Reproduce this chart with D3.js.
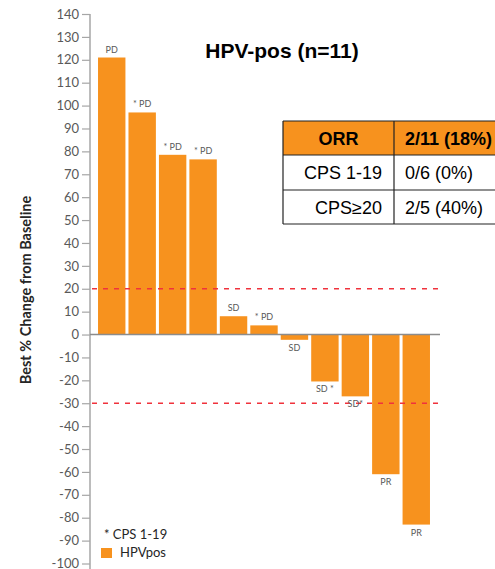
<!DOCTYPE html>
<html>
<head>
<meta charset="utf-8">
<script src="https://cdn.jsdelivr.net/npm/d3@7"></script>
<style>
  body { margin: 0; background: #fff; }
  svg { display: block; }
</style>
</head>
<body>
<svg width="495" height="569"></svg>
<script>
// patients, ordered by best % change
let patients = d3.range(1, 12);
let bestChange = [121, 97, 78.5, 76.5, 8, 4, -2.3, -20.5, -27, -61, -83];
let responseLabels = ["PD", "* PD", "* PD", "* PD", "SD", "* PD", "SD", "SD *", "SD*", "PR", "PR"];
let yTicks = d3.range(-100, 141, 10);
let thresholds = [20, -30];

let tableHeader = ["ORR", "2/11 (18%)"];
let tableRows = [["CPS 1-19", "0/6 (0%)"], ["CPS\u226520", "2/5 (40%)"]];

let orange = "#F7921E";
let svg = d3.select("svg");

var y = d3.scaleLinear()
  .domain([-100, 140])
  .range([563.5, 14]);

var x = d3.scaleBand()
  .domain(patients)
  .range([96.5, 431.5])
  .paddingInner(0.1)
  .paddingOuter(0.05);

let lato = "Lato, 'Open Sans', sans-serif";

// y axis
let yAxisG = svg.append("g")
  .attr("transform", "translate(90,0)")
  .call(d3.axisLeft(y).tickValues(yTicks).tickFormat(d => String(d))
    .tickSize(8).tickSizeOuter(0).tickPadding(3));
yAxisG.select(".domain").attr("stroke", "#a6a6a6").attr("stroke-width", 1.5)
  .attr("d", "M0," + y(140) + "V569");
yAxisG.selectAll(".tick line").attr("stroke", "#a6a6a6").attr("stroke-width", 1.2);
yAxisG.selectAll(".tick text")
  .attr("fill", "#595959")
  .style("font-family", lato)
  .style("font-size", "13px");

svg.append("text")
  .attr("transform", "translate(31,290) rotate(-90)")
  .attr("text-anchor", "middle")
  .attr("fill", "#262626")
  .style("font-family", lato)
  .style("font-weight", "bold")
  .style("font-size", "14.5px")
  .text("Best % Change from Baseline");

// bars
svg.selectAll("rect.bar")
  .data(bestChange)
  .join("rect")
    .attr("class", "bar")
    .attr("x", (d, i) => x(patients[i]))
    .attr("width", x.bandwidth())
    .attr("y", d => y(Math.max(0, d)))
    .attr("height", d => Math.abs(y(d) - y(0)))
    .attr("fill", orange);

// zero line
svg.append("line")
  .attr("x1", 90).attr("x2", 440)
  .attr("y1", y(0)).attr("y2", y(0))
  .attr("stroke", "#8c8c8c")
  .attr("stroke-width", 1.5);

// threshold lines
svg.selectAll("line.threshold")
  .data(thresholds)
  .join("line")
    .attr("class", "threshold")
    .attr("x1", 92).attr("x2", 440)
    .attr("y1", d => y(d)).attr("y2", d => y(d))
    .attr("stroke", "#f0323c")
    .attr("stroke-width", 1.6)
    .attr("stroke-dasharray", "5,6");

// response labels
svg.selectAll("text.resp")
  .data(bestChange)
  .join("text")
    .attr("class", "resp")
    .attr("x", (d, i) => x(patients[i]) + x.bandwidth() / 2)
    .attr("y", d => d >= 0 ? y(d) - 5 : y(d) + 11)
    .attr("text-anchor", "middle")
    .attr("fill", "#595959")
    .style("font-family", lato)
    .style("font-size", "9px")
    .text((d, i) => responseLabels[i]);

// title
svg.append("text")
  .attr("x", 282).attr("y", 58)
  .attr("text-anchor", "middle")
  .attr("fill", "#000")
  .style("font-family", "'Liberation Sans', Arial, sans-serif")
  .style("font-weight", "bold")
  .style("font-size", "21px")
  .text("HPV-pos (n=11)");

// table
let tableG = svg.append("g");
let colX = [283, 394, 498];
let rowY = [121, 155, 190, 224];
tableG.append("rect")
  .attr("x", colX[0]).attr("y", rowY[0])
  .attr("width", colX[2] - colX[0]).attr("height", rowY[1] - rowY[0])
  .attr("fill", orange);
rowY.forEach(ry => {
  tableG.append("line").attr("x1", colX[0]).attr("x2", colX[2])
    .attr("y1", ry).attr("y2", ry).attr("stroke", "#222").attr("stroke-width", 1.2);
});
colX.forEach(cx => {
  tableG.append("line").attr("x1", cx).attr("x2", cx)
    .attr("y1", rowY[0]).attr("y2", rowY[3]).attr("stroke", "#222").attr("stroke-width", 1.2);
});
let tFont = "'Liberation Sans', Arial, sans-serif";
tableG.append("text")
  .attr("x", (colX[0] + colX[1]) / 2).attr("y", rowY[0] + 24)
  .attr("text-anchor", "middle")
  .style("font-family", tFont).style("font-size", "18px").style("font-weight", "bold")
  .text(tableHeader[0]);
tableG.append("text")
  .attr("x", 405).attr("y", rowY[0] + 24)
  .style("font-family", tFont).style("font-size", "18px").style("font-weight", "bold")
  .text(tableHeader[1]);
tableRows.forEach((r, i) => {
  tableG.append("text")
    .attr("x", 382).attr("y", rowY[i + 1] + 24)
    .attr("text-anchor", "end")
    .style("font-family", tFont).style("font-size", "18px")
    .text(r[0]);
  tableG.append("text")
    .attr("x", 405).attr("y", rowY[i + 1] + 24)
    .style("font-family", tFont).style("font-size", "18px")
    .text(r[1]);
});

// legend
svg.append("text")
  .attr("x", 104).attr("y", 539)
  .attr("fill", "#262626")
  .style("font-family", lato)
  .style("font-size", "13px")
  .text("* CPS 1-19");
svg.append("rect")
  .attr("x", 101).attr("y", 548)
  .attr("width", 11).attr("height", 10)
  .attr("fill", orange);
svg.append("text")
  .attr("x", 120).attr("y", 557)
  .attr("fill", "#262626")
  .style("font-family", lato)
  .style("font-size", "13px")
  .text("HPVpos");
</script>
</body>
</html>
